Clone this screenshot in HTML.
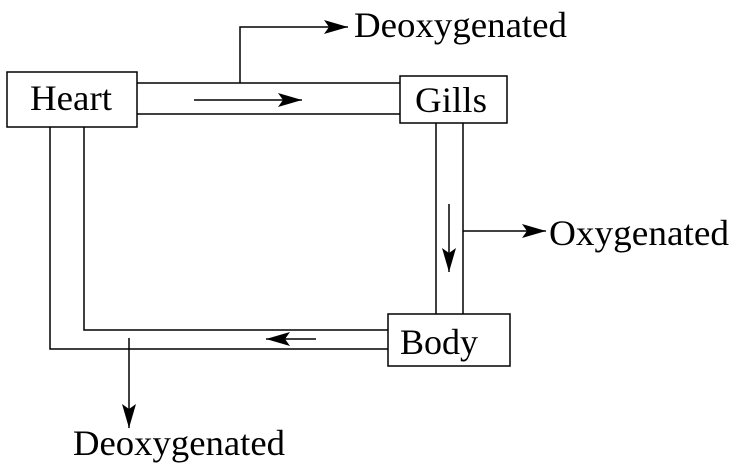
<!DOCTYPE html>
<html><head><style>html,body{margin:0;padding:0;background:#fff;}svg{display:block}
text{font-family:"Liberation Serif","Times New Roman",serif;font-size:36px;}</style></head>
<body>
<svg width="734" height="470" viewBox="0 0 734 470" xmlns="http://www.w3.org/2000/svg">
<defs>
<marker id="a" markerWidth="24" markerHeight="14" refX="24" refY="7" orient="auto" markerUnits="userSpaceOnUse">
<path d="M0,0 L24,7 L0,14 L5,7 Z" fill="#000"/>
</marker>
</defs>
<g stroke="#000" stroke-width="1.5" fill="none">
<rect x="7" y="72" width="130" height="55" fill="#fff"/>
<rect x="400" y="76" width="107" height="47" fill="#fff"/>
<rect x="388" y="314" width="122" height="52" fill="#fff"/>
<line x1="137" y1="83" x2="400" y2="83"/>
<line x1="137" y1="114" x2="400" y2="114"/>
<polyline points="240,83 240,27 348,27" marker-end="url(#a)"/>
<line x1="194" y1="100" x2="302" y2="100" marker-end="url(#a)"/>
<line x1="436" y1="123" x2="436" y2="314"/>
<line x1="463" y1="123" x2="463" y2="314"/>
<line x1="449" y1="204" x2="449" y2="272" marker-end="url(#a)"/>
<line x1="463" y1="231" x2="546" y2="231" marker-end="url(#a)"/>
<polyline points="84,127 84,330 388,330"/>
<polyline points="50,127 50,349 388,349"/>
<line x1="316" y1="339" x2="266" y2="339" marker-end="url(#a)"/>
<line x1="129" y1="338" x2="129" y2="428" marker-end="url(#a)"/>
</g>
<g fill="#000">
<text x="30" y="110" textLength="82" lengthAdjust="spacingAndGlyphs">Heart</text>
<text x="415" y="112" textLength="72" lengthAdjust="spacingAndGlyphs">Gills</text>
<text x="400" y="354" textLength="78" lengthAdjust="spacingAndGlyphs">Body</text>
<text x="354" y="37" textLength="213" lengthAdjust="spacingAndGlyphs">Deoxygenated</text>
<text x="549" y="245" textLength="180" lengthAdjust="spacingAndGlyphs">Oxygenated</text>
<text x="73" y="455" textLength="212" lengthAdjust="spacingAndGlyphs">Deoxygenated</text>
</g>
</svg>
</body></html>
